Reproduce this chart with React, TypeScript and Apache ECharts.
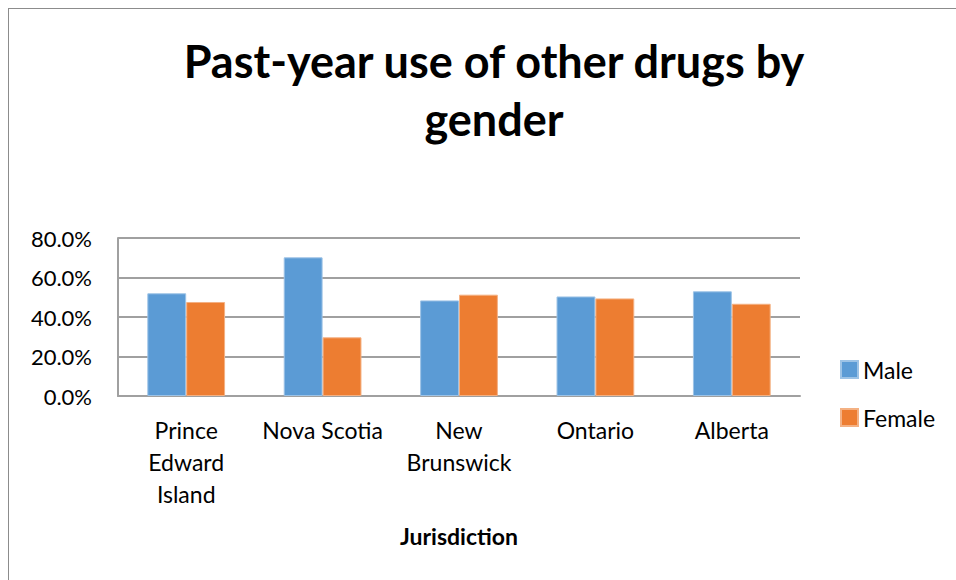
import React, { useEffect, useRef } from "react";
import * as echarts from "echarts";

const categories = ["Prince Edward Island", "Nova Scotia", "New Brunswick", "Ontario", "Alberta"];
const tickLabels = ["Prince\nEdward\nIsland", "Nova Scotia", "New\nBrunswick", "Ontario", "Alberta"];
const maleValues = [52.0, 70.2, 48.4, 50.4, 53.0];
const femaleValues = [47.6, 29.7, 51.3, 49.4, 46.7];
const yTicks = [0, 20, 40, 60, 80];
const seriesNames = ["Male", "Female"];
const titleText = "Past-year use of other drugs by\ngender";
const axisTitle = "Jurisdiction";

const FONT = "Lato, 'Open Sans', sans-serif";

export default function App() {
  const ref = useRef<HTMLDivElement>(null);
  useEffect(() => {
    if (!ref.current) return;
    const chart = echarts.init(ref.current, null, { renderer: "svg" });
    chart.setOption({
      animation: false,
      backgroundColor: "#ffffff",
      textStyle: { fontFamily: FONT },
      title: {
        text: titleText,
        left: 480,
        top: 18,
        textAlign: "center",
        textStyle: {
          fontFamily: FONT,
          fontSize: 45,
          fontWeight: "bold",
          color: "#000000",
          lineHeight: 58,
        },
      },
      legend: {
        orient: "vertical",
        left: 826,
        top: 344,
        itemWidth: 17,
        itemHeight: 17,
        itemGap: 25,
        icon: "rect",
        textStyle: { fontFamily: FONT, fontSize: 23, color: "#000000", padding: [0, 0, 0, 0] },
        data: seriesNames,
      },
      grid: {
        left: 109,
        top: 229,
        width: 682,
        height: 158,
        containLabel: false,
      },
      xAxis: {
        type: "category",
        data: categories,
        name: axisTitle,
        nameLocation: "middle",
        nameGap: 128,
        nameTextStyle: { fontFamily: FONT, fontSize: 23, fontWeight: "bold", color: "#000000" },
        axisLine: { show: true, lineStyle: { color: "#a0a0a0", width: 2 } },
        axisTick: { show: false },
        axisLabel: {
          fontFamily: FONT,
          fontSize: 23,
          color: "#000000",
          lineHeight: 32,
          margin: 18,
          interval: 0,
          formatter: (_v: string, i: number) => tickLabels[i],
        },
      },
      yAxis: {
        type: "value",
        min: yTicks[0],
        max: yTicks[yTicks.length - 1],
        interval: 20,
        axisLine: { show: true, lineStyle: { color: "#a0a0a0", width: 2 } },
        axisTick: { show: false },
        splitLine: { lineStyle: { color: "#a0a0a0", width: 2 } },
        axisLabel: {
          fontFamily: FONT,
          fontSize: 22,
          color: "#000000",
          margin: 26,
          formatter: (v: number) => v.toFixed(1) + "%",
        },
      },
      series: [
        {
          name: seriesNames[0],
          type: "bar",
          data: maleValues,
          barCategoryGap: "43%",
          barGap: "0%",
          itemStyle: { color: "#5b9bd5", borderColor: "#9dc3e6", borderWidth: 1 },
        },
        {
          name: seriesNames[1],
          type: "bar",
          data: femaleValues,
          barCategoryGap: "43%",
          barGap: "0%",
          itemStyle: { color: "#ed7d31", borderColor: "#f4b183", borderWidth: 1 },
        },
      ],
    });
    return () => chart.dispose();
  }, []);
  return (
    <div style={{ position: "fixed", left: 8, top: 8, right: 0, bottom: 0, overflow: "hidden" }}>
      <div
        style={{
          width: 1000,
          height: 620,
          borderLeft: "1px solid #8c8c8c",
          borderTop: "1px solid #8c8c8c",
          boxSizing: "content-box",
        }}
      >
        <div ref={ref} style={{ width: 1000, height: 620 }} />
      </div>
    </div>
  );
}
